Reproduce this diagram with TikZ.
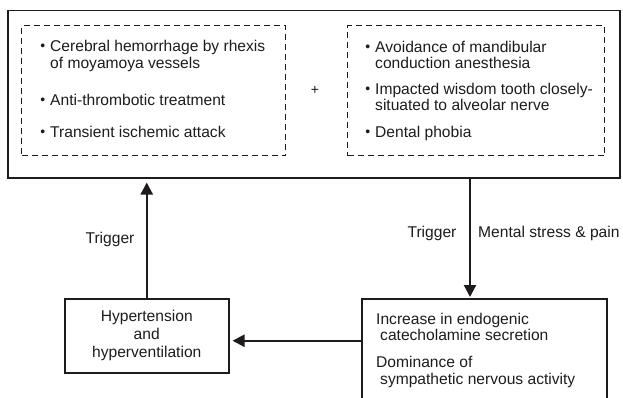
\documentclass[tikz,border=0pt]{standalone}
\usepackage{fontspec}
\setmainfont{Liberation Sans}
\usetikzlibrary{arrows.meta,positioning}
\definecolor{ink}{HTML}{1E1B1C}
\newcommand{\bul}{\llap{{\fontsize{14}{14}\selectfont\raisebox{1pt}{\textbullet}}\hspace{5pt}}}

\begin{document}
\begin{tikzpicture}[x=1pt, y=-1pt,
  txt/.style={font=\fontsize{15.6}{16.5}\selectfont, text=ink, inner sep=0pt, align=left},
  box/.style={draw=ink, line width=1.5pt, inner sep=0pt},
  dbox/.style={draw=ink, line width=1.2pt, dash pattern=on 6pt off 4pt, inner sep=0pt},
  arr/.style={draw=ink, line width=2.2pt, -{Triangle[width=12pt,length=12pt]}}]

\useasboundingbox (0,0) rectangle (623,398);
\clip (0,0) rectangle (623,398);

% top block
\node[box, minimum width=612pt, minimum height=167pt, anchor=north west] (outer) at (7,10) {};
\node[dbox, minimum width=264pt, minimum height=130pt, anchor=north west] (left) at (21,25) {};
\node[dbox, minimum width=257pt, minimum height=130pt, anchor=north west] (right) at (347,25) {};
\node[txt, font=\fontsize{14}{14}\selectfont] (plus) at (315,90) {+};

\node[txt, anchor=west] (lA) at (50,56) {\bul Cerebral hemorrhage by rhexis\\of moyamoya vessels};
\node[txt, anchor=west] (lB) at (50,100) {\bul Anti-thrombotic treatment};
\node[txt, anchor=west] (lC) at (50,132) {\bul Transient ischemic attack};

\node[txt, anchor=west] (rA) at (375,55) {\bul Avoidance of mandibular\\conduction anesthesia};
\node[txt, anchor=west] (rB) at (375,97) {\bul Impacted wisdom tooth closely-\\situated to alveolar nerve};
\node[txt, anchor=west] (rC) at (375,133) {\bul Dental phobia};

% bottom block
\node[box, txt, align=center, font=\fontsize{15.6}{18}\selectfont,
  minimum width=164pt, minimum height=74pt, anchor=north west] (hyp) at (64,298)
  {Hypertension\\and\\hyperventilation};
\node[box, minimum width=245pt, minimum height=120pt, anchor=north west] (cat) at (361,298) {};
\node[txt, anchor=west] (catA) at (376,327) {Increase in endogenic\\\hspace*{4pt}catecholamine secretion};
\node[txt, anchor=west] (catB) at (376,372) {Dominance of\\\hspace*{4pt}sympathetic nervous activity};

% arrows
\coordinate (dn) at (470,177);
\coordinate (hin) at ([yshift=-5pt]hyp.east);
\draw[arr, shorten >=4pt] (hyp.north) -- (hyp.north |- outer.south);
\draw[arr, shorten >=1pt] (dn) -- (dn |- cat.north);
\draw[arr, shorten >=3pt] (cat.west |- hin) -- (hin);

\node[txt] (trigL) at (110,239) {Trigger};
\node[txt] (trigR) at (432,233) {Trigger};
\node[txt, anchor=west] (stress) at (478,233) {Mental stress \& pain};
\end{tikzpicture}
\end{document}
